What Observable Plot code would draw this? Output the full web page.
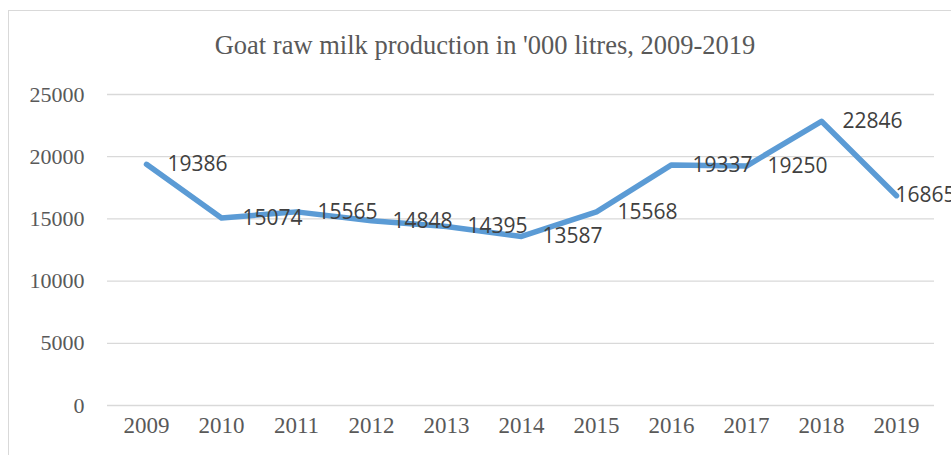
<!DOCTYPE html>
<html>
<head>
<meta charset="utf-8">
<script src="https://cdn.jsdelivr.net/npm/d3@7"></script>
<script src="https://cdn.jsdelivr.net/npm/@observablehq/plot@0.6"></script>
<style>
  html, body { margin: 0; padding: 0; background: #ffffff; }
  #wrap { position: relative; width: 951px; height: 455px; overflow: hidden; background: #ffffff; }
  #frame { position: absolute; left: 8px; top: 10px; width: 970px; height: 470px; border: 1px solid #d9d9d9; box-sizing: border-box; }
  #title { position: absolute; left: 0; width: 970px; top: 29px; text-align: center; font-family: "Liberation Serif", "Times New Roman", serif; font-size: 26.5px; color: #595959; line-height: 32px; white-space: nowrap; }
  #chart { position: absolute; left: 0; top: 0; }
</style>
</head>
<body>
<div id="wrap">
  <div id="frame"></div>
  <div id="title">Goat raw milk production in '000 litres, 2009-2019</div>
  <div id="chart"></div>
</div>
<script>
const years = ["2009", "2010", "2011", "2012", "2013", "2014", "2015", "2016", "2017", "2018", "2019"];
const values = [19386, 15074, 15565, 14848, 14395, 13587, 15568, 19337, 19250, 22846, 16865];
const yTicks = [0, 5000, 10000, 15000, 20000, 25000];

const data = years.map((year, i) => ({year, value: values[i]}));

const chart = Plot.plot({
  width: 951,
  height: 455,
  marginTop: 94,
  marginBottom: 50,
  marginLeft: 107,
  marginRight: 17,
  style: {background: "transparent", fontFamily: "'Liberation Serif', 'Times New Roman', serif"},
  x: {type: "point", domain: years, padding: 0.5, axis: null},
  y: {domain: [0, 25000], axis: null},
  marks: [
    Plot.gridY(yTicks, {stroke: "#d9d9d9", strokeOpacity: 1, strokeWidth: 1.3}),
    Plot.axisY(yTicks, {tickSize: 0, tickPadding: 23, tickFormat: d => String(d), fontSize: 22, fill: "#595959", label: null}),
    Plot.axisX(years, {tickSize: 0, tickPadding: 11, fontSize: 23, fill: "#595959", label: null}),
    Plot.line(data, {x: "year", y: "value", stroke: "#5b9bd5", strokeWidth: 5.5, strokeLinejoin: "round", strokeLinecap: "round"}),
    Plot.text(data.slice(0, -1), {x: "year", y: "value", text: d => String(d.value), textAnchor: "start", dx: 21, fontFamily: "'Open Sans', sans-serif", fontSize: 21, fill: "#404040"}),
    Plot.text(data.slice(-1), {x: "year", y: "value", text: d => String(d.value), textAnchor: "start", dx: -1, fontFamily: "'Open Sans', sans-serif", fontSize: 21, fill: "#404040"})
  ]
});
document.getElementById("chart").appendChild(chart);
</script>
</body>
</html>
